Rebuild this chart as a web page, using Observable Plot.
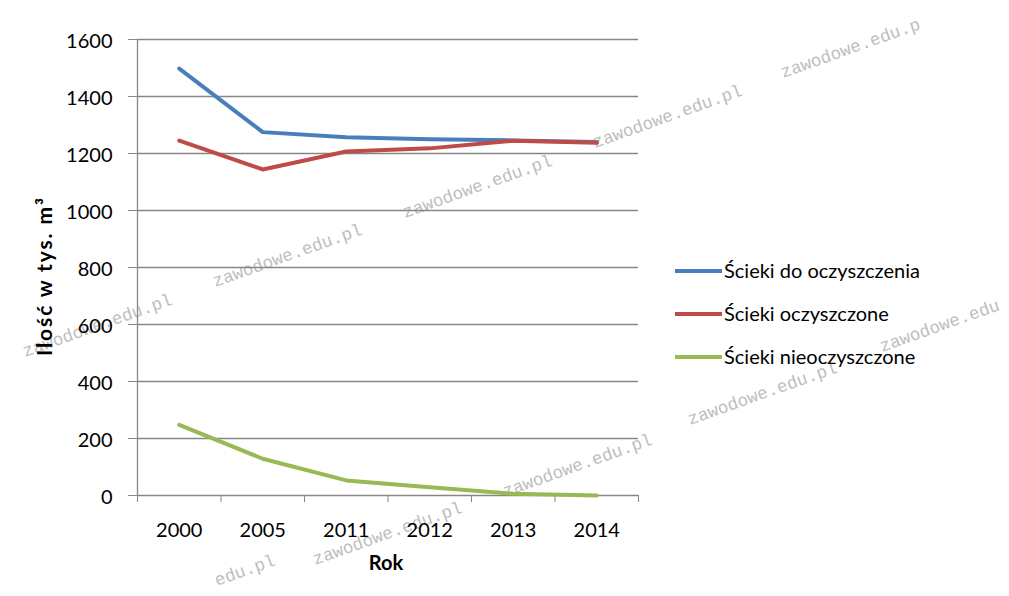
<!DOCTYPE html>
<html><head><meta charset="utf-8">
<script src="https://cdn.jsdelivr.net/npm/d3@7"></script>
<script src="https://cdn.jsdelivr.net/npm/@observablehq/plot@0.6"></script>
<style>
body{margin:0;background:#fff;}
#wrap{position:relative;width:1009px;height:596px;}
</style></head><body><div id="wrap"></div>
<script>
const years = ["2000","2005","2011","2012","2013","2014"];
const seriesNames = ["Ścieki do oczyszczenia","Ścieki oczyszczone","Ścieki nieoczyszczone"];
const doOczyszczenia = [1498,1275,1257,1250,1246,1240];
const oczyszczone = [1245,1144,1207,1218,1245,1238];
const nieoczyszczone = [248,129,53,29,6,0];
const colors = ["#4A7EBB","#BE4B48","#98B954"];
const yTicks = [0,200,400,600,800,1000,1200,1400,1600];
const yLabel = "Ilość w tys. m³";
const xLabel = "Rok";
const watermarks = [
  [783,78,"zawodowe.edu.p"],[595,148,"zawodowe.edu.pl"],[405,218,"zawodowe.edu.pl"],
  [215,287,"zawodowe.edu.pl"],[25,357,"zawodowe.edu.pl"],[882,352,"zawodowe.edu"],
  [690,425,"zawodowe.edu.pl"],[505,497,"zawodowe.edu.pl"],[315,565,"zawodowe.edu.pl"],[217,586,"edu.pl"]
];

const allSeries = [doOczyszczenia, oczyszczone, nieoczyszczone];
const data = [];
allSeries.forEach((vals,s)=>vals.forEach((v,i)=>data.push({i, year:years[i], value:v, series:seriesNames[s]})));
const idx = years.map((_,i)=>i);
const bounds = d3.range(years.length+1).map(i=>i-0.5);

const chart = Plot.plot({
  width:1009, height:596, marginLeft:137, marginRight:371, marginTop:39, marginBottom:101,
  style:{fontFamily:"Lato, sans-serif", fontSize:"20px", color:"#000", background:"#fff"},
  x:{type:"linear", domain:[-0.5, years.length-0.5]},
  y:{domain:[0,1600]},
  color:{domain:seriesNames, range:colors},
  marks:[
    Plot.gridY(yTicks,{stroke:"#868686", strokeOpacity:1, strokeWidth:1.3}),
    Plot.ruleX([-0.5],{stroke:"#868686", strokeWidth:1.3}),
    Plot.axisY(yTicks,{tickSize:9, tickFormat:()=>"", stroke:"#868686", label:null}),
    Plot.axisY(yTicks,{tickSize:0, tickPadding:25, dy:2.5, tickFormat:d=>String(d), fill:"#000", label:null}),
    Plot.axisX(bounds,{tickSize:7, tickFormat:()=>"", stroke:"#868686", label:null}),
    Plot.axisX(idx,{tickSize:0, tickPadding:27, tickFormat:i=>years[i], fill:"#000", label:null}),
    Plot.line(data,{x:"i", y:"value", stroke:"series", z:"series", strokeWidth:4})
  ]
});
document.getElementById("wrap").appendChild(chart);

const svg = d3.select(chart);
// watermarks behind
const wm = svg.insert("g", ":first-child").attr("fill","#bdbdbd").attr("text-anchor","start")
  .style("font-family","'Liberation Mono', monospace").style("font-size","17.5px");
watermarks.forEach(([x,y,t])=>{
  wm.append("text").attr("transform",`translate(${x},${y}) rotate(-19.6)`).text(t);
});
svg.insert("rect", ":first-child").attr("width",1009).attr("height",596).attr("fill","#fff");

// axis titles
svg.append("text").attr("transform","translate(52,277) rotate(-90)")
  .attr("text-anchor","middle").style("font-weight","bold").style("font-size","21px").attr("fill","#000")
  .attr("textLength",158).attr("lengthAdjust","spacing")
  .text(yLabel);
svg.append("text").attr("x",386).attr("y",570)
  .attr("text-anchor","middle").style("font-weight","bold").style("font-size","20px").attr("fill","#000")
  .text(xLabel);

// legend
const lg = svg.append("g").attr("text-anchor","start");
seriesNames.forEach((name,k)=>{
  const y = 271 + 43*k;
  lg.append("line").attr("x1",675).attr("x2",722).attr("y1",y).attr("y2",y)
    .attr("stroke",colors[k]).attr("stroke-width",4);
  lg.append("text").attr("x",724).attr("y",y).attr("dy","0.33em")
    .style("font-size","20px").attr("fill","#000").text(name);
});
</script></body></html>
